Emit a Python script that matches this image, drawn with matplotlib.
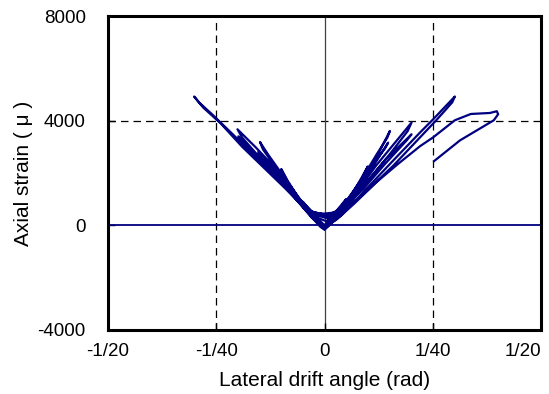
import matplotlib
matplotlib.use("Agg")
import matplotlib.pyplot as plt

plt.rcParams['font.family'] = ['Liberation Sans', 'DejaVu Sans']
plt.rcParams['axes.unicode_minus'] = False

# drift angle (rad) and axial strain (micro), in loading order
drift = [
    0.0, 0.0025, 0.005, 0.003, 0.0005, -0.0025, -0.005, -0.003, 0.0,
    # 1/100
    0.003, 0.006, 0.0085, 0.010, 0.0085, 0.005, 0.001,
    -0.003, -0.006, -0.0085, -0.010, -0.0085, -0.005, -0.001, 0.0,
    # 1/67 first
    0.003, 0.006, 0.009, 0.012, 0.0151, 0.0145, 0.012, 0.008, 0.004, 0.001,
    -0.002, -0.006, -0.010, -0.013, -0.0149, -0.0142, -0.011, -0.007, -0.003, 0.0,
    # 1/67 second
    0.003, 0.007, 0.011, 0.0147, 0.0140, 0.011, 0.007, 0.003, 0.0,
    -0.003, -0.007, -0.011, -0.0153, -0.0146, -0.011, -0.007, -0.003, 0.0,
    # 1/50 first
    0.004, 0.008, 0.012, 0.016, 0.0201, 0.0192, 0.015, 0.010, 0.005, 0.001,
    -0.004, -0.008, -0.012, -0.016, -0.0201, -0.0190, -0.015, -0.010, -0.005, -0.001, 0.0,
    # 1/50 second
    0.004, 0.009, 0.014, 0.0201, 0.0190, 0.014, 0.009, 0.004, 0.0005,
    -0.004, -0.009, -0.014, -0.0199, -0.0190, -0.014, -0.009, -0.004, 0.0,
    # 1/33
    0.004, 0.008, 0.012, 0.016, 0.0221, 0.0251, 0.0301, 0.0295, 0.026, 0.022, 0.016,
    0.010, 0.005, 0.001,
    -0.004, -0.009, -0.014, -0.019, -0.024, -0.028, -0.0301, -0.0290, -0.026, -0.021,
    -0.015, -0.010, -0.005, -0.001, 0.0,
    # final push
    0.003, 0.007, 0.012, 0.017, 0.0221, 0.0251, 0.0301, 0.0338, 0.0382, 0.0398,
    0.0401, 0.0391, 0.0313, 0.0253,
]
strain = [
    0, 400, 1000, 600, 150, 350, 900, 500, 0,
    450, 1100, 1800, 2250, 1750, 900, 250,
    450, 1050, 1700, 2150, 1650, 850, 50, -120,
    300, 900, 1700, 2600, 3605, 3350, 2700, 1600, 700, 350,
    380, 1050, 2000, 2700, 3183, 2900, 2150, 1250, 350, -160,
    300, 1100, 2200, 3160, 2950, 2300, 1250, 500, 450,
    420, 1150, 2050, 2800, 2550, 1950, 1150, 300, -140,
    500, 1400, 2300, 3100, 3926, 3600, 2700, 1700, 750, 300,
    600, 1500, 2300, 3000, 3670, 3350, 2600, 1700, 700, -50, -160,
    450, 1500, 2500, 3478, 3250, 2350, 1400, 600, 400,
    550, 1500, 2400, 3400, 3200, 2350, 1450, 500, -100,
    400, 1100, 1800, 2500, 3554, 4053, 4923, 4700, 4050, 3350, 2300,
    1350, 650, 380,
    550, 1400, 2200, 3000, 3900, 4500, 4923, 4700, 4250, 3450,
    2450, 1600, 800, 100, -100,
    250, 850, 1650, 2350, 3029, 3363, 4015, 4256, 4294, 4360,
    4245, 4015, 3248, 2454,
]

xticks = [-0.05, -0.025, 0.0, 0.025, 0.05]
xticklabels = ['-1/20', '-1/40', '0', '1/40', '1/20']
yticks = [-4000, 0, 4000, 8000]

blue = '#000080'

fig = plt.figure(figsize=(5.49, 3.94), dpi=100)
ax = fig.add_axes([108 / 549, 64 / 394, 433 / 549, 314 / 394])

# reference lines
for xv in (-0.025, 0.025):
    ax.axvline(xv, color='black', lw=0.9, dashes=(6, 4), zorder=1)
ax.axhline(4000, color='black', lw=0.9, dashes=(6, 4), zorder=1)
ax.axvline(0, color='#404040', lw=0.9, zorder=1)
ax.axhline(0, color=blue, lw=1.3, zorder=2)

ax.plot(drift, strain, color=blue, lw=1.6, zorder=3)

ax.set_xlim(-0.05, 0.05)
ax.set_ylim(-4000, 8000)
ax.set_xticks(xticks)
ax.set_xticklabels(xticklabels)
ax.set_yticks(yticks)
ax.tick_params(axis='both', direction='in', length=5, width=1, labelsize=13.5)
ax.tick_params(axis='y', pad=16)
ax.tick_params(axis='x', pad=9)
ax.get_xticklabels()[-1].set_ha('right')

for s in ax.spines.values():
    s.set_linewidth(2.2)

ax.set_xlabel('Lateral drift angle (rad)', fontsize=15)
ax.set_ylabel('Axial strain ( μ )', fontsize=15)
ax.xaxis.set_label_coords(0.5, -0.16)
ax.yaxis.set_label_coords(-0.196, 0.5)
ax.xaxis.label.set_va('center')
ax.yaxis.label.set_va('center')

fig.savefig('out.png', dpi=100)
